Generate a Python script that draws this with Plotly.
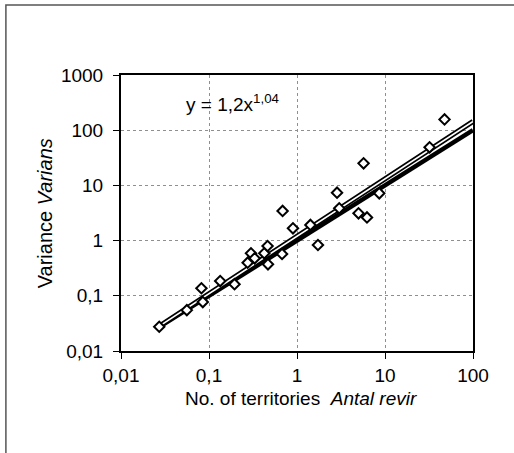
import plotly.graph_objects as go

territories = [0.0272, 0.056, 0.082, 0.085, 0.134, 0.195, 0.275, 0.30, 0.33, 0.425,
               0.463, 0.468, 0.676, 0.686, 0.90, 1.42, 1.73, 2.85, 3.02, 5.0,
               5.71, 6.24, 8.6, 32.1, 47.5]
variance = [0.0275, 0.055, 0.137, 0.077, 0.185, 0.162, 0.398, 0.589, 0.478, 0.589,
            0.798, 0.372, 0.572, 3.44, 1.67, 1.92, 0.832, 7.38, 3.85, 3.12,
            25.1, 2.63, 7.19, 49.0, 157.0]

# Trend lines (endpoints)
trend_x = [0.027, 100]
power_fit_y = [0.028, 144]      # y = 1,2x^1,04
one_to_one_y = [0.027, 100]     # thick line

x_tickvals = [0.01, 0.1, 1, 10, 100]
x_ticktext = ["0,01", "0,1", "1", "10", "100"]
y_tickvals = [0.01, 0.1, 1, 10, 100, 1000]
y_ticktext = ["0,01", "0,1", "1", "10", "100", "1000"]

FONT = "Liberation Sans, Arial, sans-serif"

fig = go.Figure()
fig.add_trace(go.Scatter(x=trend_x, y=one_to_one_y, mode="lines",
                         line=dict(color="black", width=4.5), hoverinfo="skip"))
fig.add_trace(go.Scatter(x=trend_x, y=power_fit_y, mode="lines",
                         line=dict(color="black", width=5), hoverinfo="skip"))
fig.add_trace(go.Scatter(x=trend_x, y=power_fit_y, mode="lines",
                         line=dict(color="white", width=1.6), hoverinfo="skip"))
fig.add_trace(go.Scatter(x=territories, y=variance, mode="markers",
                         marker=dict(symbol="diamond", size=8, color="white",
                                     line=dict(color="black", width=2))))

axis_common = dict(type="log", showline=True, mirror=True, linecolor="black",
                   linewidth=2, ticks="outside", ticklen=6, tickcolor="black",
                   tickwidth=1, showgrid=True, gridcolor="#8f8f8f", gridwidth=1,
                   griddash="3px,3px", zeroline=False,
                   tickfont=dict(family=FONT, size=19, color="black"))

fig.update_xaxes(range=[-2, 2], tickvals=x_tickvals, ticktext=x_ticktext,
                 ticklabelstandoff=0, **axis_common)
fig.update_yaxes(range=[-2, 3], tickvals=y_tickvals, ticktext=y_ticktext,
                 ticklabelstandoff=6, **axis_common)

fig.update_layout(
    width=514, height=453,
    margin=dict(l=121, r=41, t=75, b=102),
    paper_bgcolor="white", plot_bgcolor="white",
    showlegend=False,
    font=dict(family=FONT, color="black"),
    shapes=[dict(type="rect", xref="paper", yref="paper",
                 x0=-0.327, x1=1.3, y0=-0.5, y1=1.2536,
                 line=dict(color="#555555", width=1.5), layer="below")],
    annotations=[
        dict(text="y = 1,2x<sup>1,04</sup>", xref="paper", yref="paper",
             x=0.318, y=0.899, xanchor="center", yanchor="middle",
             showarrow=False, font=dict(family=FONT, size=19, color="black")),
        dict(text="Variance <i>Varians</i>", xref="paper", yref="paper",
             x=-0.215, y=0.5, textangle=-90, xanchor="center", yanchor="middle",
             showarrow=False, font=dict(family=FONT, size=20, color="black")),
        dict(text="No. of territories  <i>Antal revir</i>", xref="paper", yref="paper",
             x=0.51, y=-0.172, xanchor="center", yanchor="middle",
             showarrow=False, font=dict(family=FONT, size=19, color="black")),
    ],
)

fig.write_html("out.html", config={"displayModeBar": False},
               post_script="document.body.style.margin='0';")
